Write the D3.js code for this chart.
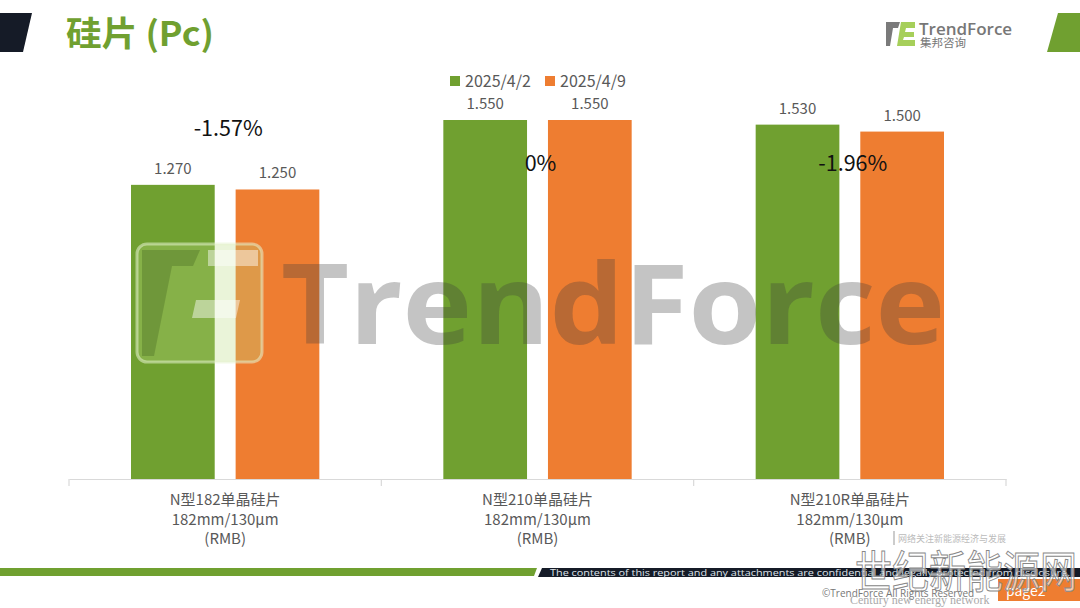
<!DOCTYPE html>
<html><head><meta charset="utf-8">
<script src="https://cdn.jsdelivr.net/npm/d3@7"></script>
<style>
html,body{margin:0;padding:0;background:#fff;}
svg{display:block;font-family:"Noto Sans CJK SC","Noto Sans",sans-serif;}
</style></head>
<body><svg id="c" width="1080" height="608"></svg>
<script>
// ---- data ----
const categories = [
  ["N型182单晶硅片","182mm/130μm","(RMB)"],
  ["N型210单晶硅片","182mm/130μm","(RMB)"],
  ["N型210R单晶硅片","182mm/130μm","(RMB)"]
];
const seriesNames = ["2025/4/2","2025/4/9"];
const seriesA = [1.270, 1.550, 1.530];
const seriesB = [1.250, 1.550, 1.500];
const changes = ["-1.57%","0%","-1.96%"];
const changeAnchor = [1.51, 1.36, 1.36]; // value-space anchor for the change labels
const colors = ["#70a030","#ee7d31"];

const svg = d3.select("#c");

// ---- header ----
svg.append("polygon").attr("points","0,13 32,13 23,52 0,52").attr("fill","#151b27");
svg.append("polygon").attr("points","1058,13 1080,13 1080,52 1047,52").attr("fill","#70a030");
svg.append("text").attr("x",66).attr("y",46).attr("fill","#70a030")
  .attr("font-size",34).attr("font-weight",700).attr("textLength",148).attr("lengthAdjust","spacingAndGlyphs").text("硅片 (Pc)");

// top-right logo
const lg = svg.append("g").attr("transform","translate(886,22)");
lg.append("path").attr("d","M0,0 H14 L12,6 H7 L4,24 H0 Z").attr("fill","#7a7a7a");
lg.append("path").attr("d","M15,0 H29 V6 H20 L19,10 H28 V15 H18 L17,18 H29 V24 H11 Z").attr("fill","#a6cf5a");
svg.append("text").attr("x",919).attr("y",35).attr("fill","#777").attr("font-size",17)
  .attr("font-family","'Open Sans','Noto Sans',sans-serif").attr("font-weight",600).text("TrendForce");
svg.append("text").attr("x",920).attr("y",47).attr("fill","#777").attr("font-size",11.5).text("集邦咨询");

// ---- scales ----
const x0 = d3.scaleBand().domain(d3.range(categories.length)).range([69,1006]).padding(0);
const x1 = d3.scaleBand().domain(d3.range(seriesNames.length)).range([62, x0.bandwidth()-62]).paddingInner(0.2);
const y = d3.scaleLinear().domain([0,1.55]).range([479,120]);

const values = [seriesA, seriesB];

// bars
const g = svg.append("g");
categories.forEach((c,i)=>{
  values.forEach((s,j)=>{
    g.append("rect").attr("x",x0(i)+x1(j)).attr("y",y(s[i]))
      .attr("width",x1.bandwidth()).attr("height",y(0)-y(s[i])).attr("fill",colors[j]);
    g.append("text").attr("x",x0(i)+x1(j)+x1.bandwidth()/2).attr("y",y(s[i])-11)
      .attr("text-anchor","middle").attr("font-size",15).attr("fill","#595959")
      .text(d3.format(".3f")(s[i]));
  });
});

// axis
const axis = svg.append("g").attr("transform",`translate(0,${y(0)})`)
  .call(d3.axisBottom(x0).tickSize(0).tickFormat(""));
axis.select(".domain").attr("stroke","#d9d9d9").attr("stroke-width",1.2);
const bounds = d3.range(categories.length+1).map(i=> i<categories.length ? x0(i) : x0.range()[1]);
bounds.forEach(b=>{
  svg.append("line").attr("x1",b).attr("x2",b).attr("y1",y(0)).attr("y2",y(0)+7)
    .attr("stroke","#d9d9d9").attr("stroke-width",1.2);
});
categories.forEach((c,i)=>{
  const t = svg.append("text").attr("text-anchor","middle").attr("font-size",15).attr("fill","#595959");
  c.forEach((line,k)=>{
    t.append("tspan").attr("x",x0(i)+x0.bandwidth()/2).attr("y",505+k*19.5).text(line);
  });
});

// watermark (semi-transparent)
const wm = svg.append("g");
wm.append("rect").attr("x",137).attr("y",244).attr("width",125).attr("height",118).attr("rx",10)
  .attr("fill","#b9dc82").attr("fill-opacity",0.3).attr("stroke","#e6f2d0").attr("stroke-opacity",0.55).attr("stroke-width",3);
wm.append("path").attr("d","M142,250 H200 L193,266 H172 L154,356 H142 Z").attr("fill","#2a4a10").attr("fill-opacity",0.25);
wm.append("path").attr("d","M208,250 H258 V266 H208 Z M196,300 H240 L236,318 H192 Z").attr("fill","#ffffff").attr("fill-opacity",0.45);
wm.append("text").attr("x",281).attr("y",344).attr("font-size",112).attr("font-weight",700)
  .attr("font-family","'Open Sans','Noto Sans',sans-serif").attr("fill","#3a3a3a").attr("fill-opacity",0.3)
  .attr("textLength",664).attr("lengthAdjust","spacingAndGlyphs").text("TrendForce");

// change labels
changes.forEach((c,i)=>{
  svg.append("text").attr("x",x0(i)+x0.bandwidth()/2+3).attr("y",y(changeAnchor[i])+7)
    .attr("text-anchor","middle").attr("font-size",21.5).attr("fill","#111").text(c);
});

// legend
const lgX = [450,545];
seriesNames.forEach((n,j)=>{
  svg.append("rect").attr("x",lgX[j]).attr("y",76).attr("width",10).attr("height",10).attr("fill",colors[j]);
  svg.append("text").attr("x",lgX[j]+15).attr("y",87).attr("font-size",16).attr("fill","#595959").text(n);
});

// ---- footer ----
svg.append("polygon").attr("points","0,568 537,568 534,576 0,576").attr("fill","#70a030");
svg.append("polygon").attr("points","542,568 1080,568 1080,577 538,577").attr("fill","#151b27");
svg.append("text").attr("x",550).attr("y",575.5).attr("font-size",9.5).attr("fill","#dfe3ea")
  .attr("font-family","'Open Sans','Noto Sans',sans-serif").attr("textLength",520).attr("lengthAdjust","spacingAndGlyphs")
  .text("The contents of this report and any attachments are confidential and legally protected from disclosure.");
svg.append("rect").attr("x",998).attr("y",579).attr("width",82).attr("height",22).attr("fill","#ee7d31");
svg.append("text").attr("x",1006).attr("y",596).attr("font-size",14).attr("fill","#fff").text("page2");
svg.append("text").attr("x",822).attr("y",597).attr("font-size",10).attr("fill","#777")
  .attr("font-family","'Open Sans','Noto Sans',sans-serif").text("©TrendForce All Rights Reserved");
// site watermark
svg.append("text").attr("x",855).attr("y",588).attr("font-size",44).attr("fill","#fff").attr("fill-opacity",0.6)
  .attr("stroke","#888").attr("stroke-width",1).attr("textLength",222).attr("lengthAdjust","spacingAndGlyphs").text("世纪新能源网");
svg.append("text").attr("x",850).attr("y",604).attr("font-size",12).attr("fill","#aaa")
  .attr("font-family","'Liberation Serif',serif").text("Century new energy network");
svg.append("line").attr("x1",894).attr("x2",894).attr("y1",531).attr("y2",545).attr("stroke","#999");
svg.append("text").attr("x",898).attr("y",542).attr("font-size",9).attr("fill","#bbb").text("网络关注新能源经济与发展");
</script></body></html>
